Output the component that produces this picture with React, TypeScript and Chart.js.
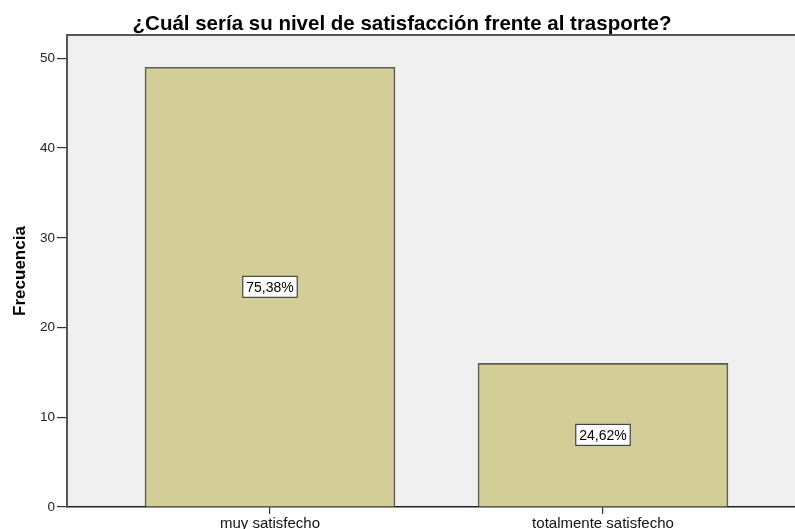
import React, { useEffect, useRef } from "react";
import { Chart, registerables } from "chart.js";

Chart.register(...registerables);

const titleText = "¿Cuál sería su nivel de satisfacción frente al trasporte?";
const yAxisTitle = "Frecuencia";
const categories = ["muy satisfecho", "totalmente satisfecho"];
const frequencies = [49, 16];
const yTicks = [0, 10, 20, 30, 40, 50];

const FONT = "'Liberation Sans', Arial, sans-serif";

export default function App() {
  const ref = useRef<HTMLCanvasElement | null>(null);

  useEffect(() => {
    if (!ref.current) return;
    const total = frequencies.reduce((a, b) => a + b, 0);

    const decor = {
      id: "decor",
      beforeDraw(chart: any) {
        const { ctx, chartArea: a } = chart;
        ctx.save();
        ctx.fillStyle = "#ffffff";
        ctx.fillRect(0, 0, chart.width, chart.height);
        ctx.fillStyle = "#F0F0F0";
        ctx.fillRect(a.left, a.top, a.right - a.left, a.bottom - a.top);
        ctx.restore();
      },
      afterDraw(chart: any) {
        const { ctx, chartArea: a } = chart;
        ctx.save();
        // top border
        ctx.strokeStyle = "#555555";
        ctx.lineWidth = 2;
        ctx.beginPath();
        ctx.moveTo(a.left, a.top);
        ctx.lineTo(a.right, a.top);
        ctx.stroke();
        // title
        ctx.fillStyle = "#000000";
        ctx.font = `bold 20.5px ${FONT}`;
        ctx.textAlign = "center";
        ctx.textBaseline = "alphabetic";
        ctx.fillText(titleText, 402, 30);
        // percent labels
        const meta = chart.getDatasetMeta(0);
        ctx.font = `14px ${FONT}`;
        meta.data.forEach((el: any, i: number) => {
          const pct = ((frequencies[i] / total) * 100).toFixed(2).replace(".", ",") + "%";
          const cx = el.x;
          const cy = (el.y + el.base) / 2;
          const w = ctx.measureText(pct).width + 7;
          const h = 21;
          ctx.fillStyle = "#ffffff";
          ctx.fillRect(cx - w / 2, cy - h / 2, w, h);
          ctx.strokeStyle = "#444444";
          ctx.lineWidth = 1.2;
          ctx.strokeRect(cx - w / 2, cy - h / 2, w, h);
          ctx.fillStyle = "#000000";
          ctx.textAlign = "center";
          ctx.textBaseline = "middle";
          ctx.fillText(pct, cx, cy + 1);
        });
        ctx.restore();
      },
    };

    const chart = new Chart(ref.current, {
      type: "bar",
      data: {
        datasets: [
          {
            data: frequencies.map((v, i) => ({ x: i, y: v })),
            backgroundColor: "#D3CD97",
            borderColor: "#5E5E55",
            borderWidth: 1.6,
            barThickness: 250,
          } as any,
        ],
      },
      options: {
        responsive: false,
        animation: false,
        devicePixelRatio: 1,
        layout: { padding: { top: 35, right: 0, bottom: 0, left: 0 } },
        plugins: {
          legend: { display: false },
          tooltip: { enabled: false },
          title: { display: false },
        },
        scales: {
          x: {
            type: "linear",
            offset: false,
            min: -0.6096,
            max: 1.5766,
            afterBuildTicks: (s: any) => {
              s.ticks = categories.map((_, i) => ({ value: i }));
            },
            afterFit: (s: any) => {
              s.height = 22;
            },
            ticks: {
              callback: (_v: any, i: number) => categories[i],
              font: { family: FONT, size: 15 },
              color: "#111111",
              padding: 1,
              autoSkip: false,
              maxRotation: 0,
            },
            grid: {
              offset: false,
              drawOnChartArea: false,
              drawTicks: true,
              tickLength: 7,
              color: "#333333",
              lineWidth: 1.2,
            },
            border: { color: "#222222", width: 1.5 },
          },
          y: {
            min: 0,
            max: 52.6,
            afterBuildTicks: (s: any) => {
              s.ticks = yTicks.map((v) => ({ value: v }));
            },
            afterFit: (s: any) => {
              s.width = 67;
            },
            ticks: {
              font: { family: FONT, size: 13.5 },
              color: "#222222",
              padding: 2,
            },
            grid: {
              drawOnChartArea: false,
              drawTicks: true,
              tickLength: 10,
              color: "#333333",
              lineWidth: 1.2,
            },
            border: { color: "#555555", width: 2 },
            title: {
              display: true,
              text: yAxisTitle,
              font: { family: FONT, size: 17, weight: "bold" },
              color: "#000000",
              padding: { top: 10, bottom: 0 },
            },
          },
        },
      } as any,
      plugins: [decor],
    });

    return () => chart.destroy();
  }, []);

  return (
    <div style={{ position: "fixed", left: 0, top: 0, width: 795, height: 529, background: "#fff" }}>
      <canvas ref={ref} width={795} height={529} style={{ display: "block" }} />
    </div>
  );
}
